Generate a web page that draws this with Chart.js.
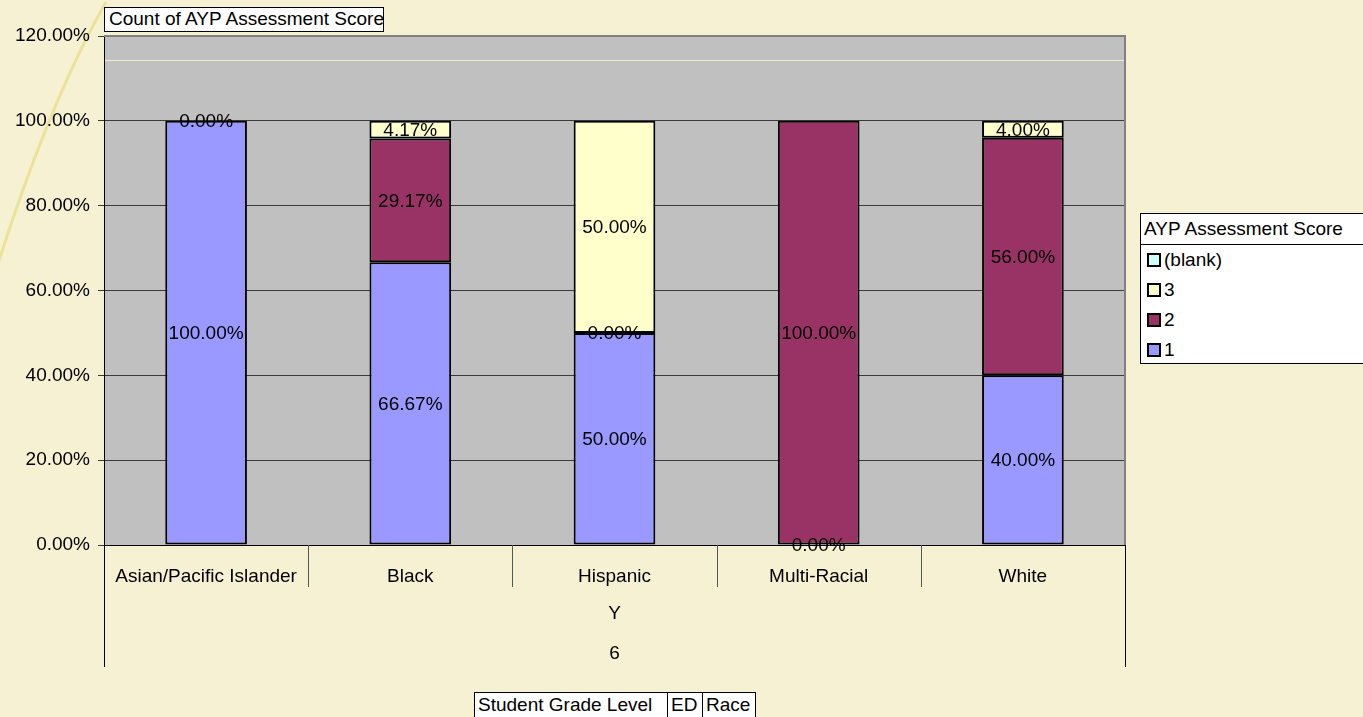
<!DOCTYPE html>
<html>
<head>
<meta charset="utf-8">
<script src="https://cdn.jsdelivr.net/npm/chart.js@4.4.1/dist/chart.umd.min.js"></script>
<style>
  html, body { margin: 0; padding: 0; background: #F6F1D2; }
  #wrap { position: relative; width: 1363px; height: 717px; overflow: hidden; font-family: 'Liberation Sans', Arial, sans-serif; color: #000; }
  #c { position: absolute; left: 0; top: 0; }
  .box { position: absolute; background: #fff; border: 1px solid #000; font-size: 19px; line-height: 22px; white-space: nowrap; box-sizing: border-box; }
  #title { left: 104px; top: 7px; width: 280px; height: 25px; padding-left: 4px; }
  #legend { left: 1140px; top: 213px; width: 225px; height: 151px; }
  #legend .hd { height: 30px; line-height: 30px; padding-left: 3px; border-bottom: 1px solid #000; }
  #legend .it { height: 30px; line-height: 30px; padding-left: 6px; display: flex; align-items: center; }
  #legend .sw { width: 10px; height: 10px; border: 2px solid #000; margin-right: 3px; display: inline-block; }
  #fields { position: absolute; left: 474px; top: 692px; display: flex; }
  #fields div { background: #fff; border: 1px solid #000; font-size: 19px; line-height: 24px; height: 30px; padding: 0 0 0 3px; box-sizing: border-box; margin-right: -1px; }
</style>
</head>
<body>
<div id="wrap">
  <canvas id="c" width="1363" height="717"></canvas>
  <div id="title" class="box">Count of AYP Assessment Score</div>
  <div id="legend" class="box"></div>
  <div id="fields"><div style="width:194px">Student Grade Level</div><div style="width:36px">ED</div><div style="width:54px">Race</div></div>
</div>
<script>
const categories = ['Asian/Pacific Islander', 'Black', 'Hispanic', 'Multi-Racial', 'White'];
const groupLevel1 = 'Y';
const groupLevel2 = '6';
const legendTitle = 'AYP Assessment Score';
const seriesNames = ['1', '2', '3', '(blank)'];
const score1 = [100.00, 66.67, 50.00, 0.00, 40.00];
const score2 = [null, 29.17, 0.00, 100.00, 56.00];
const score3 = [0.00, 4.17, 50.00, null, 4.00];
const scoreBlank = [null, null, null, null, null];
const yTicks = [0, 20, 40, 60, 80, 100, 120];
const seriesColors = ['#9999FF', '#993366', '#FFFFCC', '#CCFFFF'];

const FONT = "'Liberation Sans', Arial, sans-serif";
const FS = 19;

const bgPlugin = {
  id: 'bg',
  beforeDraw(chart) {
    const ctx = chart.ctx, a = chart.chartArea;
    ctx.save();
    ctx.fillStyle = '#F6F1D2';
    ctx.fillRect(0, 0, chart.width, chart.height);
    // decorative curve
    ctx.strokeStyle = 'rgba(232,222,140,0.8)';
    ctx.lineWidth = 3;
    ctx.beginPath();
    ctx.moveTo(106, 2);
    ctx.quadraticCurveTo(50, 100, -4, 270);
    ctx.stroke();
    ctx.fillStyle = '#C0C0C0';
    ctx.fillRect(a.left, a.top, a.right - a.left, a.bottom - a.top);
    ctx.restore();
  },
  beforeDatasetsDraw(chart) {
    const ctx = chart.ctx, a = chart.chartArea;
    ctx.save();
    ctx.strokeStyle = '#F3EDC6';
    ctx.lineWidth = 1;
    ctx.beginPath();
    ctx.moveTo(a.left + 1, a.top + 24.5);
    ctx.lineTo(a.right, a.top + 24.5);
    ctx.stroke();
    ctx.strokeStyle = '#808080';
    ctx.lineWidth = 2;
    ctx.beginPath();
    ctx.moveTo(a.left, a.top);
    ctx.lineTo(a.right, a.top);
    ctx.lineTo(a.right, a.bottom);
    ctx.stroke();
    ctx.restore();
  },
  afterDatasetsDraw(chart) {
    const ctx = chart.ctx;
    ctx.save();
    ctx.font = FS + 'px ' + FONT;
    ctx.fillStyle = '#000';
    ctx.textAlign = 'center';
    ctx.textBaseline = 'middle';
    chart.data.datasets.forEach((ds, i) => {
      const meta = chart.getDatasetMeta(i);
      meta.data.forEach((el, j) => {
        const v = ds.data[j];
        if (v === null || v === undefined) return;
        const y = (el.y + el.base) / 2;
        ctx.fillText(v.toFixed(2) + '%', el.x, y + 1);
      });
    });
    ctx.restore();
  },
  afterDraw(chart) {
    const ctx = chart.ctx, a = chart.chartArea, xs = chart.scales.x;
    ctx.save();
    const n = categories.length;
    ctx.lineWidth = 1;
    ctx.strokeStyle = '#555';
    for (let i = 1; i < n; i++) {
      const x = Math.round((xs.getPixelForTick(i - 1) + xs.getPixelForTick(i)) / 2) + 0.5;
      ctx.beginPath();
      ctx.moveTo(x, a.bottom);
      ctx.lineTo(x, a.bottom + 42);
      ctx.stroke();
    }
    ctx.strokeStyle = '#000';
    [a.left, a.right].forEach(x => {
      const px = Math.round(x) + 0.5;
      ctx.beginPath();
      ctx.moveTo(px, a.bottom);
      ctx.lineTo(px, a.bottom + 122);
      ctx.stroke();
    });
    ctx.font = FS + 'px ' + FONT;
    ctx.fillStyle = '#000';
    ctx.textAlign = 'center';
    ctx.textBaseline = 'middle';
    const cx = (a.left + a.right) / 2;
    ctx.fillText(groupLevel1, cx, a.bottom + 69);
    ctx.fillText(groupLevel2, cx, a.bottom + 109);
    ctx.restore();
  }
};

const seriesData = [score1, score2, score3, scoreBlank];
const datasets = seriesNames.map((name, i) => ({
  label: name,
  data: seriesData[i],
  backgroundColor: seriesColors[i],
  borderColor: '#000',
  borderWidth: 2,
  borderSkipped: false,
  barPercentage: 0.4,
  categoryPercentage: 1.0
}));

const chart = new Chart(document.getElementById('c'), {
  type: 'bar',
  data: { labels: categories, datasets },
  options: {
    responsive: false,
    animation: false,
    layout: { padding: { left: 0, top: 36, right: 238, bottom: 0 } },
    plugins: { legend: { display: false }, tooltip: { enabled: false }, title: { display: false } },
    scales: {
      x: {
        stacked: true,
        grid: { display: false, drawTicks: false },
        border: { display: true, color: '#000', width: 1 },
        ticks: { color: '#000', font: { family: FONT, size: FS }, padding: 20, maxRotation: 0, autoSkip: false },
        afterFit(s) { s.height = 172; }
      },
      y: {
        stacked: true,
        min: 0, max: 120,
        afterBuildTicks(s) { s.ticks = yTicks.map(v => ({ value: v })); },
        grid: { color: '#3a3a3a', lineWidth: 1, tickLength: 6 },
        border: { display: true, color: '#000', width: 1 },
        ticks: { color: '#000', font: { family: FONT, size: FS }, padding: 8, callback: v => Number(v).toFixed(2) + '%' },
        afterFit(s) { s.width = 104; }
      }
    }
  },
  plugins: [bgPlugin]
});

const lg = document.getElementById('legend');
let html = '<div class="hd">' + legendTitle + '</div>';
for (let i = chart.data.datasets.length - 1; i >= 0; i--) {
  const d = chart.data.datasets[i];
  html += '<div class="it"><span class="sw" style="background:' + d.backgroundColor + '"></span>' + d.label + '</div>';
}
lg.innerHTML = html;
</script>
</body>
</html>
